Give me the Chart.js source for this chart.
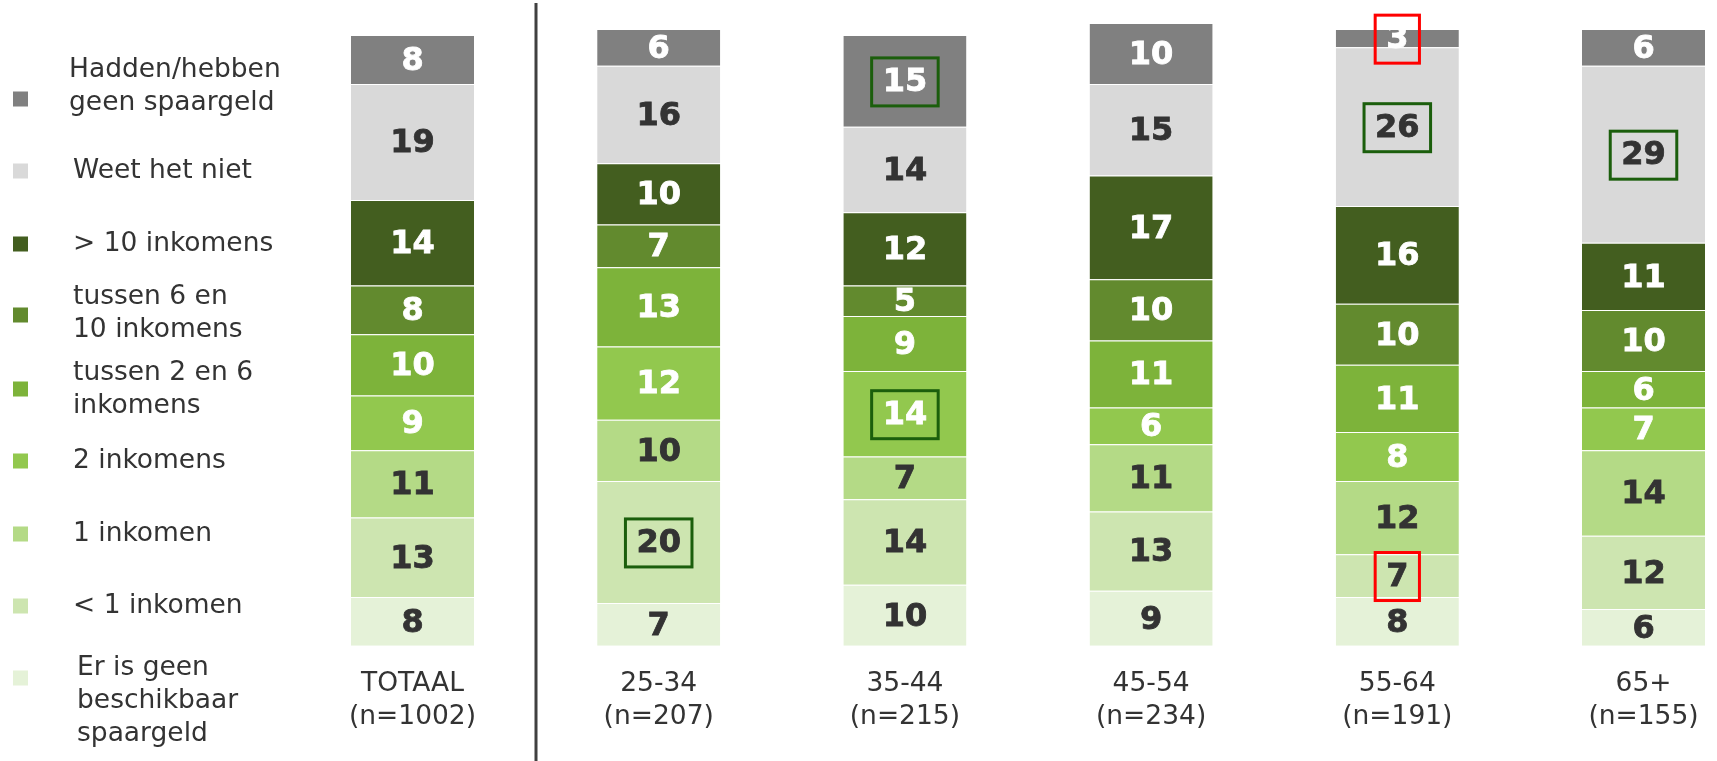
<!DOCTYPE html>
<html>
<head>
<meta charset="utf-8">
<title>Spaargeld naar leeftijd</title>
<script src="https://cdn.jsdelivr.net/npm/chart.js"></script>
<style>
  html, body { margin: 0; padding: 0; background: #fff; overflow: hidden; }
  #chart { display: block; }
</style>
</head>
<body>
<canvas id="chart" width="1717" height="761"></canvas>
<script>
const categories = ['TOTAAL', '25-34', '35-44', '45-54', '55-64', '65+'];
const sampleSizes = ['(n=1002)', '(n=207)', '(n=215)', '(n=234)', '(n=191)', '(n=155)'];

// series, bottom of the stack first
const geenBeschikbaar = [8, 7, 10, 9, 8, 6];
const minderDan1 = [13, 20, 14, 13, 7, 12];
const eenInkomen = [11, 10, 7, 11, 12, 14];
const tweeInkomens = [9, 12, 14, 6, 8, 7];
const tussen2en6 = [10, 13, 9, 11, 11, 6];
const tussen6en10 = [8, 7, 5, 10, 10, 10];
const meerDan10 = [14, 10, 12, 17, 16, 11];
const weetNiet = [19, 16, 14, 15, 26, 29];
const geenSpaargeld = [8, 6, 15, 10, 3, 6];

const seriesValues = [geenBeschikbaar, minderDan1, eenInkomen, tweeInkomens, tussen2en6,
  tussen6en10, meerDan10, weetNiet, geenSpaargeld];
const seriesLabels = [
  ['Er is geen', 'beschikbaar', 'spaargeld'],
  ['< 1 inkomen'],
  ['1 inkomen'],
  ['2 inkomens'],
  ['tussen 2 en 6', 'inkomens'],
  ['tussen 6 en', '10 inkomens'],
  ['> 10 inkomens'],
  ['Weet het niet'],
  ['Hadden/hebben', 'geen spaargeld']
];
const seriesColors = ['#e5f2d8', '#cde5b0', '#b4da86', '#92c84e', '#7db33a',
  '#628a2e', '#435e1f', '#d9d9d9', '#808080'];
const valueColors = ['#333', '#333', '#333', '#fff', '#fff', '#fff', '#fff', '#333', '#fff'];

// highlighted values: [series, category]
const greenBoxes = [[8, 2], [3, 2], [1, 1], [7, 4], [7, 5]];
const redBoxes = [[8, 4], [1, 4]];

const FONT = '"DejaVu Sans", Verdana, sans-serif';

// legend layout, top item first: square centre, first text line, text x
const legendSquareY = [99, 171, 244, 315, 389, 461, 534, 606, 678];
const legendTextY = [70, 171, 244, 297, 373, 461, 534, 606, 668];
const legendTextX = [69, 73, 73, 73, 73, 73, 73, 73, 77];

const overlay = {
  id: 'overlay',
  afterDatasetsDraw(chart) {
    const ctx = chart.ctx;
    const xs = chart.scales.x;
    ctx.save();

    // divider between TOTAAL and the age groups
    const dx = Math.round(xs.getPixelForValue(0.5));
    ctx.strokeStyle = '#404040';
    ctx.lineWidth = 3;
    ctx.beginPath();
    ctx.moveTo(dx, 3);
    ctx.lineTo(dx, chart.height);
    ctx.stroke();

    // values inside the segments
    ctx.font = 'bold 32px ' + FONT;
    ctx.textAlign = 'center';
    ctx.textBaseline = 'middle';
    ctx.lineWidth = 0.8;
    const centres = [];
    chart.data.datasets.forEach((ds, d) => {
      centres[d] = [];
      chart.getDatasetMeta(d).data.forEach((bar, i) => {
        const cy = (bar.y + bar.base) / 2;
        const txt = String(ds.data[i].y);
        centres[d][i] = { x: bar.x, y: cy, text: txt };
        ctx.fillStyle = valueColors[d];
        ctx.strokeStyle = valueColors[d];
        ctx.fillText(txt, bar.x, cy + 2);
        ctx.strokeText(txt, bar.x, cy + 2);
      });
    });

    function box(list, color) {
      ctx.strokeStyle = color;
      ctx.lineWidth = 3;
      list.forEach(([d, i]) => {
        const c = centres[d][i];
        const w = ctx.measureText(c.text).width + 22;
        const h = 48;
        ctx.strokeRect(c.x - w / 2, c.y - h / 2 + 1, w, h);
      });
    }
    box(greenBoxes, '#1b5e0c');
    box(redBoxes, '#ff0000');

    // legend on the left
    ctx.font = '26.5px ' + FONT;
    ctx.textAlign = 'left';
    ctx.textBaseline = 'middle';
    for (let k = 0; k < seriesLabels.length; k++) {
      const d = seriesLabels.length - 1 - k;
      ctx.fillStyle = seriesColors[d];
      ctx.fillRect(13, legendSquareY[k] - 7.5, 15, 15);
      ctx.fillStyle = '#333';
      seriesLabels[d].forEach((line, j) => {
        ctx.fillText(line, legendTextX[k], legendTextY[k] + j * 33);
      });
    }
    ctx.restore();
  }
};

const ctx = document.getElementById('chart').getContext('2d');
const chart = new Chart(ctx, {
  type: 'bar',
  data: {
    datasets: seriesValues.map((vals, d) => ({
      label: seriesLabels[d].join(' '),
      data: vals.map((v, i) => ({ x: i, y: v })),
      backgroundColor: seriesColors[d],
      borderColor: 'rgba(255,255,255,0.35)',
      borderWidth: { top: 1, bottom: 0, left: 0, right: 0 },
      borderSkipped: false,
      categoryPercentage: 1,
      barPercentage: 0.5,
      clip: false
    }))
  },
  options: {
    responsive: false,
    animation: false,
    layout: { padding: { top: 29, bottom: 5, left: 0, right: 0 } },
    plugins: { legend: { display: false }, tooltip: { enabled: false } },
    scales: {
      x: {
        type: 'linear',
        stacked: true,
        offset: false,
        min: -1.6755,
        max: 5.2985,
        grid: { display: false, drawTicks: false },
        border: { display: false },
        afterBuildTicks: (scale) => {
          scale.ticks = categories.map((_, i) => ({ value: i }));
        },
        afterFit: (scale) => {
          scale.paddingLeft = 0;
          scale.paddingRight = 0;
        },
        ticks: {
          autoSkip: false,
          maxRotation: 0,
          padding: 22,
          color: '#333',
          font: { family: FONT, size: 26.5, lineHeight: 1.25 },
          callback: (v) => [categories[v], sampleSizes[v]]
        }
      },
      y: {
        stacked: true,
        min: 0,
        max: 101,
        display: false
      }
    }
  },
  plugins: [overlay]
});
</script>
</body>
</html>
